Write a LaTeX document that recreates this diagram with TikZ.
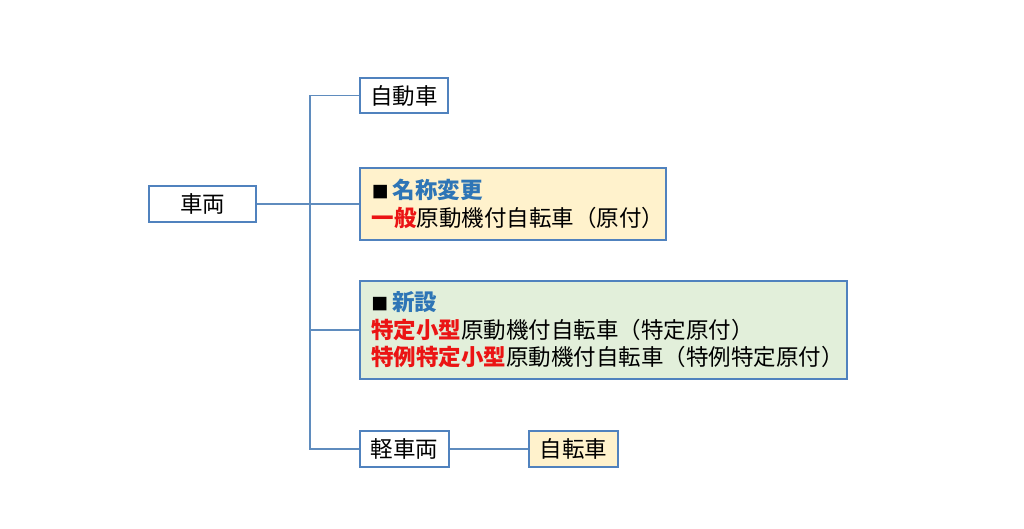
\documentclass[tikz,border=0pt]{standalone}
\usepackage{fontspec}
\setmainfont{Noto Sans CJK JP}
\usetikzlibrary{positioning}
\definecolor{boxblue}{RGB}{80,130,190}
\definecolor{linkblue}{RGB}{95,140,190}
\definecolor{headblue}{RGB}{46,117,182}
\definecolor{paleorange}{RGB}{255,242,204}
\definecolor{palegreen}{RGB}{226,239,218}
\definecolor{hotred}{RGB}{235,20,20}
\newcommand{\hl}[1]{\textcolor{hotred}{\bfseries #1}}
\newcommand{\hd}[1]{{\fontsize{12}{12}\selectfont ■}\,\textcolor{headblue}{\bfseries #1}}

\begin{document}
\begin{tikzpicture}[x=0.025cm, y=-0.025cm, font=\fontsize{16}{19.5}\selectfont,
  lnk/.style={draw=linkblue, line width=1.4pt}]
\tikzstyle{cat}=[draw=boxblue, line width=1.3pt, fill=white, inner sep=0pt, align=center]
\tikzstyle{note}=[cat, align=left, inner xsep=8pt]
\useasboundingbox (0,0) rectangle (1024,528);
\node[cat, minimum width=2.675cm, minimum height=0.9cm] (sharyo) at (202.5,204) {車両};
\node[cat, minimum width=2.2cm, minimum height=0.875cm] (jidosha) at (404,95.5) {自動車};
\node[note, fill=paleorange, minimum width=7.65cm, minimum height=1.8cm, text width=7.05cm] (meisho) at (513,204)
  {\hd{名称変更}\\\hl{一般}原動機付自転車（原付）};
\node[note, fill=palegreen, minimum width=12.175cm, minimum height=2.45cm, text width=11.6cm] (shinsetsu) at (603.5,330)
  {\hd{新設}\\\hl{特定小型}原動機付自転車（特定原付）\\\hl{特例特定小型}原動機付自転車（特例特定原付）};
\node[cat, minimum width=2.225cm, minimum height=0.9cm] (keisharyo) at (404.5,449) {軽車両};
\node[cat, fill=paleorange, minimum width=2.225cm, minimum height=0.9cm] (jitensha) at (573.5,449) {自転車};
% trunk
\coordinate (knee) at (310,449);
\coordinate (tee) at (310,330);
\draw[lnk] (jidosha.west) -| (knee) -- (keisharyo.west);
\draw[lnk] (sharyo) -- (meisho);
\draw[lnk] (tee) -- (shinsetsu.west);
\draw[lnk] (keisharyo) -- (jitensha);
\end{tikzpicture}
\end{document}
